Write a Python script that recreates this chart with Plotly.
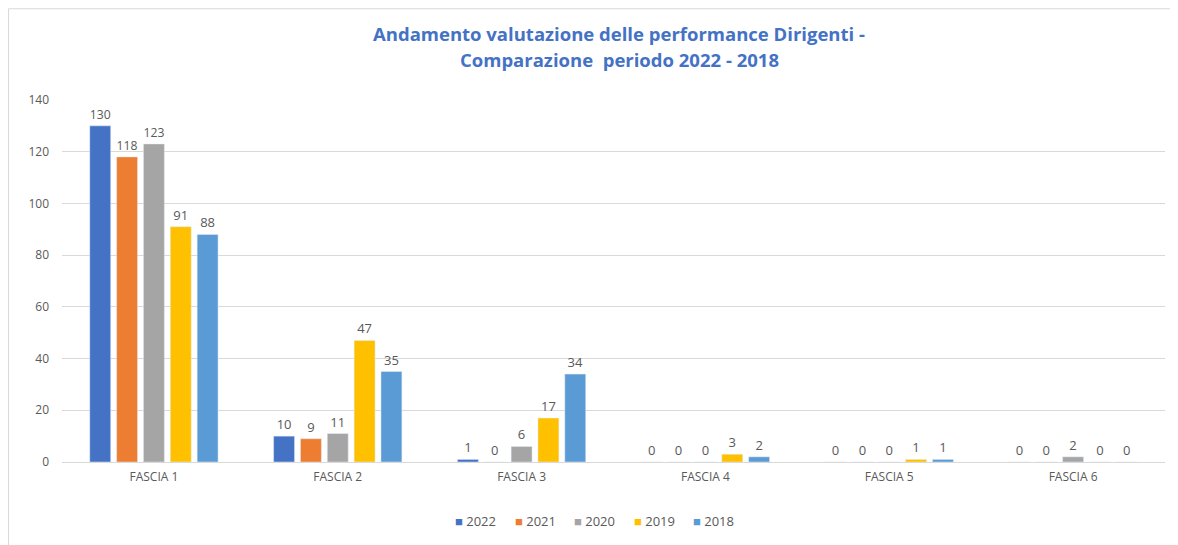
import plotly.graph_objects as go

categories = ["FASCIA 1", "FASCIA 2", "FASCIA 3", "FASCIA 4", "FASCIA 5", "FASCIA 6"]
years = ["2022", "2021", "2020", "2019", "2018"]
v2022 = [130, 10, 1, 0, 0, 0]
v2021 = [118, 9, 0, 0, 0, 0]
v2020 = [123, 11, 6, 0, 0, 2]
v2019 = [91, 47, 17, 3, 1, 0]
v2018 = [88, 35, 34, 2, 1, 0]
colors = ["#4472C4", "#ED7D31", "#A5A5A5", "#FFC000", "#5B9BD5"]
title_lines = ["Andamento valutazione delle performance Dirigenti -",
               "Comparazione  periodo 2022 - 2018"]

fig = go.Figure()
for name, vals, col in zip(years, [v2022, v2021, v2020, v2019, v2018], colors):
    fig.add_trace(go.Bar(
        x=categories, y=vals, name=name, marker_color=col,
        text=vals, textposition="outside", cliponaxis=False,
        textfont=dict(size=13, color="#595959"),
    ))

# title as two lines so the spacing can be set
for line, ypos in zip(title_lines, [1.185, 1.1105]):
    fig.add_annotation(text="<b>" + line + "</b>", xref="paper", yref="paper",
                       x=0.505, y=ypos, xanchor="center", yanchor="middle", showarrow=False,
                       font=dict(size=18.5, color="#4472C4", family="Open Sans, sans-serif"))

# compact legend like the original (small squares, tight spacing)
for i, (name, col) in enumerate(zip(years, colors)):
    fig.add_annotation(text=f'<span style="color:{col}">■</span> {name}',
                       xref="paper", yref="paper", x=0.3545 + i * 0.054, y=-0.163,
                       xanchor="left", yanchor="middle", showarrow=False,
                       font=dict(size=13, color="#595959"))

fig.update_layout(
    width=1178, height=545,
    margin=dict(l=54, r=21, t=92, b=91, autoexpand=False),
    paper_bgcolor="white", plot_bgcolor="white",
    font=dict(family="Open Sans, Liberation Sans, sans-serif", color="#595959", size=12),
    barmode="group", bargap=0.27, bargroupgap=0.22,
    showlegend=False,
    shapes=[dict(type="rect", xref="paper", yref="paper",
                 x0=-0.0485, x1=1.03, y0=-0.3, y1=1.252,
                 line=dict(color="#D9D9D9", width=1))],
)
fig.update_yaxes(range=[0, 140], dtick=20, gridcolor="#D9D9D9", showline=False, automargin=False,
                 zeroline=False, tickfont=dict(size=12, color="#595959"), ticklabelstandoff=12)
fig.update_xaxes(showline=True, linecolor="#D9D9D9", automargin=False,
                 tickfont=dict(size=12, color="#595959"), ticklabelstandoff=4)

fig.write_html("out.html")
